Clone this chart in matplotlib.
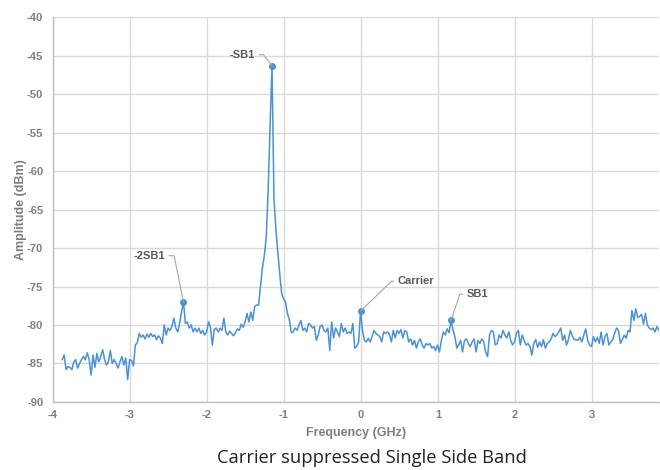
import numpy as np
import matplotlib
matplotlib.use("Agg")
import matplotlib.pyplot as plt

plt.rcParams["font.family"] = ["Liberation Sans", "DejaVu Sans"]
plt.rcParams["axes.unicode_minus"] = False

# spectrum, one value every 25 MHz
freq_start = -3.88   # GHz
freq_step = 0.025    # GHz
amplitude = [
    -84.5, -83.9, -85.8, -85.4, -85.5, -85.8, -84.8, -84.5, -85.6, -85.0,
    -84.5, -84.1, -84.5, -83.6, -84.5, -86.5, -83.9, -85.5, -83.7, -84.8,
    -84.1, -83.2, -84.5, -85.2, -84.8, -83.3, -85.0, -84.5, -85.0, -85.6,
    -84.8, -84.1, -85.2, -84.3, -87.1, -84.5, -84.6, -85.3, -82.6,
    -82.3, -81.1, -81.6, -81.3, -81.8, -81.2, -81.6, -81.1, -81.5, -81.3, -81.9, -81.4,
    -81.7, -82.4, -80.0, -81.3, -80.4, -80.7, -80.2, -79.1, -80.4, -80.9, -79.8, -78.3, -77.0,
    -79.8, -79.6, -80.4, -80.0, -80.9, -80.4, -80.9, -80.4, -81.1, -80.7,
    -81.3, -80.9, -79.6, -80.3, -82.6, -80.6, -80.4, -80.9, -80.4, -80.7,
    -79.1, -80.9, -81.3, -80.8, -81.1, -81.4, -81.0, -80.5, -80.7, -79.9,
    -80.3, -79.6, -78.5, -79.6, -78.3, -79.4, -77.6, -77.4, -77.4, -75.0,
    -72.6, -71.0, -68.6, -62.5, -54.0, -46.3,
    -63.5, -67.5, -70.5, -73.3, -75.9, -76.6, -77.0, -78.5, -79.3, -81.0,
    -80.9, -80.4, -80.7, -80.0, -79.4, -80.7, -80.4, -80.9, -79.8, -80.0,
    -80.4, -80.2, -82.0, -81.3, -80.2, -80.0, -80.7, -80.9, -80.4, -83.3,
    -79.6, -81.7, -80.4, -80.9, -81.5, -79.8, -80.9, -80.4, -81.1, -80.9,
    -81.1, -79.8, -83.0, -82.8, -82.2, -78.2, -80.7, -82.0, -82.2, -81.7,
    -82.2, -81.5, -80.7, -81.1, -81.3, -81.5, -82.2, -80.9, -81.1, -80.9,
    -81.2, -82.2, -80.7, -81.7, -80.7, -81.1, -80.6, -81.7, -80.7, -80.9,
    -82.2, -81.8, -82.6, -82.0, -83.0, -82.2, -81.8, -82.6, -83.0, -82.4,
    -82.6, -82.4, -83.0, -82.8, -83.3, -82.6, -83.5, -82.0, -80.9, -81.3,
    -80.5, -81.0, -79.4, -80.6, -81.5, -83.0, -82.6, -82.0, -83.5, -82.0,
    -81.8, -82.4, -82.8, -82.2, -81.8, -83.5, -82.0, -82.4, -81.8, -82.2,
    -83.5, -84.1, -81.3, -80.7, -80.9,
    -82.6, -82.4, -81.3, -81.7, -80.7,
    -81.3, -81.7, -80.9, -82.0, -82.6, -82.2, -81.1, -80.7, -82.6, -81.3,
    -82.0, -82.6, -82.4, -82.8, -83.9, -82.4, -81.9, -82.9, -82.2, -82.8,
    -81.9, -83.0, -82.4, -82.2, -81.8, -81.1, -81.5, -81.3, -80.9, -80.4,
    -82.0, -81.3, -82.6, -81.9, -80.7, -81.4, -81.9,
    -81.9, -82.0, -81.6,
    -82.2, -81.3, -80.5, -82.0, -82.6, -82.8, -81.5, -82.2, -81.6, -82.4,
    -80.9, -82.6, -81.5, -81.1, -82.6, -82.2, -81.9, -81.1, -80.4, -80.7,
    -82.4, -81.9, -81.3, -81.7, -80.7, -80.9, -78.1, -79.4, -77.9, -79.0,
    -78.9, -78.6, -79.9, -78.5, -80.0, -80.4, -80.6, -80.4, -80.9, -80.2,
    -80.7,
]

# labelled peaks: sample index, name
peak_idx = [63, 109, 155, 202]
peak_names = ["-2SB1", "-SB1", "Carrier", "SB1"]

x_ticks = [-4, -3, -2, -1, 0, 1, 2, 3]
y_ticks = [-90, -85, -80, -75, -70, -65, -60, -55, -50, -45, -40]

freq = freq_start + freq_step * np.arange(len(amplitude))
amp = np.array(amplitude)

BLUE = "#4a92d4"
GREY_TXT = "#7f7f7f"
GRID = "#d9d9d9"

fig = plt.figure(figsize=(6.6, 4.7), dpi=100)
ax = fig.add_axes([0.0803, 0.1447, 0.918, 0.819])

ax.plot(freq, amp, color=BLUE, lw=1.1, zorder=3)
ax.plot(freq[peak_idx], amp[peak_idx], "o", color=BLUE, ms=4, zorder=4)

# label placement: (text x, text y, align, leader angle at the peak)
label_pos = {
    "-2SB1": (-2.545, -71.0, "right", 101.5),
    "-SB1": (-1.377, -44.9, "right", 128.3),
    "Carrier": (0.48, -74.3, "left", 44.0),
    "SB1": (1.377, -76.0, "left", 71.4),
}
for i, name in zip(peak_idx, peak_names):
    tx, ty, ha, ang = label_pos[name]
    ax.annotate(name, xy=(freq[i], amp[i]), xytext=(tx, ty),
                ha=ha, va="center", fontsize=8, fontweight="bold",
                color="#595959", zorder=5,
                arrowprops=dict(arrowstyle="-", color="#a6a6a6", lw=0.8,
                                shrinkA=1, shrinkB=0,
                                connectionstyle=f"angle,angleA=0,angleB={ang},rad=0"))

ax.set_xlim(-4, freq[-1])
ax.set_ylim(-90, -40)
ax.set_xticks(x_ticks)
ax.set_yticks(y_ticks)
ax.grid(True, color=GRID, lw=1.0, zorder=0)
ax.set_axisbelow(True)

for s in ["top", "right"]:
    ax.spines[s].set_visible(False)
for s in ["left", "bottom"]:
    ax.spines[s].set_color("#bfbfbf")
    ax.spines[s].set_linewidth(1.0)

ax.tick_params(axis="both", length=0, labelsize=8, labelcolor=GREY_TXT)
ax.tick_params(axis="y", pad=7)
ax.tick_params(axis="x", pad=6)
for lab in ax.get_xticklabels() + ax.get_yticklabels():
    lab.set_fontweight("bold")

ax.set_xlabel("Frequency (GHz)", fontsize=9, fontweight="bold", color=GREY_TXT, labelpad=5)
ax.set_ylabel("Amplitude (dBm)", fontsize=9, fontweight="bold", color=GREY_TXT)
ax.yaxis.set_label_coords(-0.043, 0.5)

fig.text(0.564, 0.025, "Carrier suppressed Single Side Band", ha="center", va="center",
         fontsize=13.2, family="Open Sans", color="#222222")

fig.savefig("out.png", dpi=100)
